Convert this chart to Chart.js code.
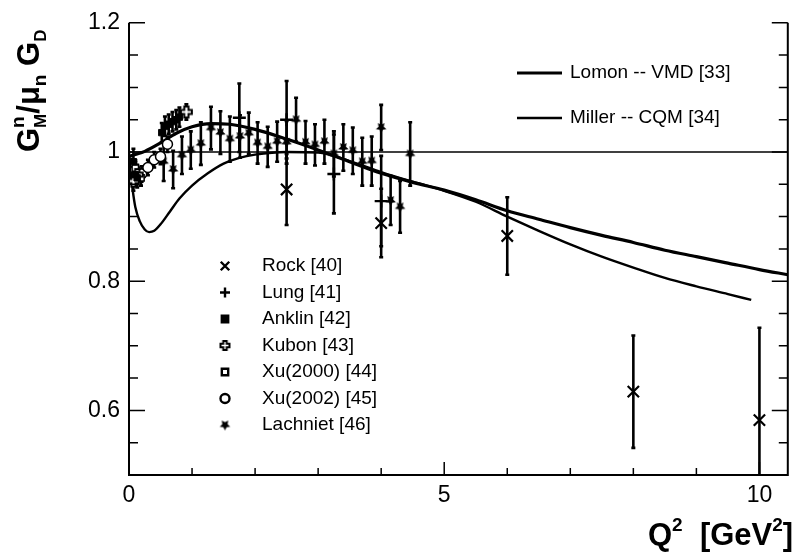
<!DOCTYPE html>
<html><head><meta charset="utf-8">
<script src="https://cdn.jsdelivr.net/npm/chart.js@4.4.1/dist/chart.umd.min.js"></script>
<style>html,body{margin:0;padding:0;background:#fff;}#wrap{width:798px;height:554px;}</style>
</head><body><div id="wrap"><canvas id="c" width="798" height="554"></canvas></div>
<script>
// ---------------- data ----------------
const lomonQ2 = [0, 0.1, 0.25, 0.5, 0.75, 1.0, 1.3, 1.6, 2.0, 2.5, 3.0, 3.5, 4.0, 4.5, 5.0, 5.5, 6.0, 6.5, 7.0, 7.5, 8.0, 8.5, 9.0, 9.5, 10.0, 10.45];
const lomonG  = [0.993, 0.996, 1.001, 1.014, 1.029, 1.039, 1.044, 1.043, 1.035, 1.020, 1.003, 0.985, 0.967, 0.953, 0.941, 0.926, 0.909, 0.896, 0.883, 0.871, 0.860, 0.848, 0.838, 0.828, 0.818, 0.810];
const millerQ2 = [0, 0.03, 0.06, 0.1, 0.17, 0.25, 0.32, 0.4, 0.5, 0.65, 0.8, 1.0, 1.25, 1.5, 1.75, 2.0, 2.5, 3.0, 3.5, 4.0, 4.5, 5.0, 5.5, 6.0, 6.5, 7.0, 7.5, 8.0, 8.5, 9.0, 9.5, 9.87];
const millerG  = [1.0, 0.965, 0.94, 0.915, 0.893, 0.880, 0.876, 0.878, 0.888, 0.908, 0.928, 0.948, 0.967, 0.982, 0.991, 0.996, 1.0, 0.999, 0.986, 0.969, 0.954, 0.940, 0.923, 0.900, 0.878, 0.857, 0.838, 0.821, 0.805, 0.792, 0.780, 0.771];
const refQ2 = [0, 10.45];
const refG  = [1, 1];

const rockQ2 = [2.5, 4.0, 6.0, 8.0, 10.0];
const rockG  = [0.942, 0.890, 0.870, 0.629, 0.585];
const rockErr = [0.055, 0.053, 0.060, 0.087, 0.143];

const lungQ2 = [1.75, 2.5, 3.25, 4.0];
const lungG  = [1.053, 1.050, 0.966, 0.924];
const lungErr = [0.053, 0.060, 0.061, 0.070];

const anklinQ2 = [0.07, 0.10, 0.13, 0.52, 0.57, 0.63, 0.69, 0.75, 0.80];
const anklinG  = [0.985, 0.965, 0.960, 1.030, 1.040, 1.043, 1.047, 1.050, 1.054];
const anklinErr = [0.02, 0.015, 0.015, 0.015, 0.015, 0.015, 0.015, 0.015, 0.015];

const kubonQ2 = [0.07, 0.13, 0.91];
const kubonG  = [0.955, 0.965, 1.062];
const kubonErr = [0.015, 0.015, 0.012];

const xu2000Q2 = [0.10, 0.19];
const xu2000G  = [0.975, 0.960];
const xu2000Err = [0.012, 0.012];

const xu2002Q2 = [0.10, 0.20, 0.30, 0.40, 0.50, 0.61];
const xu2002G  = [0.972, 0.966, 0.976, 0.988, 0.993, 1.012];
const xu2002Err = [0.012, 0.012, 0.012, 0.012, 0.012, 0.012];

const lachQ2 = [0.55, 0.70, 0.84, 0.98, 1.14, 1.30, 1.45, 1.60, 1.76, 1.90, 2.04, 2.20, 2.35, 2.50, 2.65, 2.80, 2.95, 3.10, 3.25, 3.40, 3.55, 3.70, 3.85, 4.00, 4.15, 4.30, 4.46];
const lachG  = [0.985, 0.973, 0.995, 1.003, 1.013, 1.037, 1.030, 1.020, 1.024, 1.029, 1.014, 1.008, 1.016, 1.015, 1.050, 1.015, 1.011, 1.016, 0.997, 1.007, 1.002, 0.985, 0.986, 1.038, 0.925, 0.915, 0.997];
const lachErr = [0.03, 0.029, 0.029, 0.029, 0.033, 0.033, 0.033, 0.035, 0.033, 0.032, 0.032, 0.031, 0.031, 0.033, 0.034, 0.033, 0.032, 0.034, 0.035, 0.036, 0.036, 0.037, 0.038, 0.035, 0.038, 0.040, 0.049];

const xTickLabels = [0, 5, 10];
const yTickLabels = [0.6, 0.8, 1.0, 1.2];

const zip = (xs, ys) => xs.map((x, i) => ({x: x, y: ys[i]}));

// ---------------- custom markers ----------------
function makeStar(r) {
  const s = Math.ceil(r * 2 + 2), c = document.createElement('canvas');
  c.width = s; c.height = s;
  const g = c.getContext('2d');
  g.fillStyle = '#000'; g.beginPath();
  for (let i = 0; i < 10; i++) {
    const a = Math.PI / 2 + i * Math.PI / 5, rr = (i % 2) ? r * 0.5 : r;
    g.lineTo(s / 2 + rr * Math.cos(a), s / 2 + rr * Math.sin(a));
  }
  g.closePath(); g.fill();
  return c;
}
function makeOpenCross(r) {
  const s = Math.ceil(r * 2 + 4), c = document.createElement('canvas');
  c.width = s; c.height = s;
  const g = c.getContext('2d'), m = s / 2, a = r * 0.38;
  g.beginPath();
  g.moveTo(m - a, m - r); g.lineTo(m + a, m - r); g.lineTo(m + a, m - a); g.lineTo(m + r, m - a);
  g.lineTo(m + r, m + a); g.lineTo(m + a, m + a); g.lineTo(m + a, m + r); g.lineTo(m - a, m + r);
  g.lineTo(m - a, m + a); g.lineTo(m - r, m + a); g.lineTo(m - r, m - a); g.lineTo(m - a, m - a);
  g.closePath();
  g.fillStyle = '#fff'; g.fill();
  g.lineWidth = 2; g.strokeStyle = '#000'; g.stroke();
  return c;
}
const starImg = makeStar(5.5);
const crossImg = makeOpenCross(5.5);
const crossImgSmall = makeOpenCross(4.5);

const FONT = '"Liberation Sans", Arial, Helvetica, sans-serif';

function pointDS(label, xs, ys, errs, style) {
  return Object.assign({
    label: label, data: zip(xs, ys), errs: errs, showLine: false,
    pointBackgroundColor: '#000', pointBorderColor: '#000', pointBorderWidth: 2, pointRadius: 5
  }, style);
}

const datasets = [
  pointDS('Rock [40]', rockQ2, rockG, rockErr, {pointStyle: 'crossRot', pointRadius: 8, pointBorderWidth: 2.2}),
  pointDS('Lung [41]', lungQ2, lungG, lungErr, {pointStyle: 'cross', pointRadius: 6.5, pointBorderWidth: 2.4}),
  pointDS('Anklin [42]', anklinQ2, anklinG, anklinErr, {pointStyle: 'rect', pointRadius: 4.5, pointBorderWidth: 1}),
  pointDS('Kubon [43]', kubonQ2, kubonG, kubonErr, {pointStyle: crossImg}),
  pointDS('Xu(2000) [44]', xu2000Q2, xu2000G, xu2000Err, {pointStyle: 'rect', pointRadius: 4.5, pointBorderWidth: 1.5, pointBackgroundColor: '#fff'}),
  pointDS('Xu(2002) [45]', xu2002Q2, xu2002G, xu2002Err, {pointStyle: 'circle', pointRadius: 5, pointBorderWidth: 1.5, pointBackgroundColor: '#fff'}),
  pointDS('Lachniet [46]', lachQ2, lachG, lachErr, {pointStyle: starImg}),
  {label: 'Lomon -- VMD [33]', data: zip(lomonQ2, lomonG), showLine: true, borderColor: '#000', borderWidth: 3.2, pointRadius: 0, cubicInterpolationMode: 'monotone', fill: false},
  {label: 'Miller -- CQM [34]', data: zip(millerQ2, millerG), showLine: true, borderColor: '#000', borderWidth: 2.4, pointRadius: 0, cubicInterpolationMode: 'monotone', fill: false},
  {label: 'ref', data: zip(refQ2, refG), showLine: true, borderColor: '#000', borderWidth: 1.5, pointRadius: 0, fill: false}
];

// ---------------- plugins ----------------
const errorBars = {
  id: 'errorBars',
  beforeDatasetsDraw(chart) {
    const ctx = chart.ctx, xs = chart.scales.x, ys = chart.scales.y, a = chart.chartArea;
    ctx.save();
    ctx.beginPath(); ctx.rect(a.left, a.top, a.right - a.left, a.bottom - a.top); ctx.clip();
    ctx.strokeStyle = '#000'; ctx.lineWidth = 2.6;
    chart.data.datasets.forEach(ds => {
      if (!ds.errs) return;
      ds.data.forEach((p, i) => {
        const px = xs.getPixelForValue(p.x);
        const y1 = ys.getPixelForValue(p.y + ds.errs[i]);
        const y2 = ys.getPixelForValue(p.y - ds.errs[i]);
        ctx.beginPath(); ctx.moveTo(px, y1); ctx.lineTo(px, y2); ctx.stroke();
        ctx.beginPath(); ctx.moveTo(px - 2, y1); ctx.lineTo(px + 2, y1);
        ctx.moveTo(px - 2, y2); ctx.lineTo(px + 2, y2); ctx.stroke();
      });
    });
    ctx.restore();
  }
};

function drawRich(ctx, parts, x, y) {
  let cx = x;
  parts.forEach(p => {
    ctx.font = 'bold ' + p.size + 'px ' + FONT;
    ctx.fillText(p.t, cx, y + (p.dy || 0));
    const w = ctx.measureText(p.t).width;
    if (p.stack) {
      ctx.font = 'bold ' + p.stack.size + 'px ' + FONT;
      ctx.fillText(p.stack.t, cx, y + p.stack.dy);
      cx += Math.max(w, ctx.measureText(p.stack.t).width);
    } else cx += w;
  });
}

const decor = {
  id: 'decor',
  afterDraw(chart) {
    const ctx = chart.ctx, xs = chart.scales.x, ys = chart.scales.y, a = chart.chartArea;
    ctx.save();
    ctx.strokeStyle = '#000'; ctx.fillStyle = '#000';
    // frame
    ctx.lineWidth = 2;
    ctx.beginPath();
    ctx.moveTo(a.left, a.top); ctx.lineTo(a.left, a.bottom); ctx.lineTo(a.right, a.bottom); ctx.lineTo(a.right, a.top);
    ctx.stroke();
    // x ticks
    ctx.lineWidth = 1.5;
    for (let v = 0; v <= 10; v++) {
      const px = xs.getPixelForValue(v), L = (v % 5 === 0) ? 13 : 7;
      ctx.beginPath(); ctx.moveTo(px, a.bottom); ctx.lineTo(px, a.bottom - L); ctx.stroke();
    }
    // y ticks both sides
    for (let k = 10; k <= 24; k++) {
      const v = k * 0.05, py = ys.getPixelForValue(v), L = (k % 4 === 0) ? 16 : 9;
      ctx.beginPath(); ctx.moveTo(a.left, py); ctx.lineTo(a.left + L, py);
      ctx.moveTo(a.right, py); ctx.lineTo(a.right - L, py); ctx.stroke();
    }
    // model legend
    ctx.font = '19px ' + FONT; ctx.textBaseline = 'middle'; ctx.textAlign = 'left';
    ctx.lineWidth = 3.2; ctx.beginPath(); ctx.moveTo(517, 73); ctx.lineTo(562, 73); ctx.stroke();
    ctx.fillText('Lomon -- VMD [33]', 570, 73);
    ctx.lineWidth = 2.4; ctx.beginPath(); ctx.moveTo(517, 118); ctx.lineTo(562, 118); ctx.stroke();
    ctx.fillText('Miller -- CQM [34]', 570, 118);
    // marker legend
    const rows = [266, 292.5, 319, 345.5, 372, 398.5, 425];
    const legStyles = [
      {pointStyle: 'crossRot', radius: 6, borderWidth: 1.8},
      {pointStyle: 'cross', radius: 5, borderWidth: 1.8},
      {pointStyle: 'rect', radius: 4.5, borderWidth: 1},
      {pointStyle: crossImgSmall, radius: 5, borderWidth: 1},
      {pointStyle: 'rect', radius: 4.5, borderWidth: 1.5},
      {pointStyle: 'circle', radius: 4.5, borderWidth: 1.5},
      {pointStyle: starImg, radius: 5, borderWidth: 1}
    ];
    for (let i = 0; i < 7; i++) {
      const ds = chart.data.datasets[i];
      ctx.fillStyle = (typeof ds.pointBackgroundColor === 'string') ? ds.pointBackgroundColor : '#000';
      ctx.strokeStyle = '#000';
      Chart.helpers.drawPoint(ctx, Object.assign({rotation: 0}, legStyles[i]), 225, rows[i]);
      ctx.fillStyle = '#000';
      ctx.font = '19px ' + FONT;
      ctx.fillText(ds.label, 262, rows[i]);
    }
    ctx.textBaseline = 'alphabetic';
    // axis titles
    ctx.fillStyle = '#000';
    drawRich(ctx, [
      {t: 'Q', size: 31}, {t: '2', size: 19, dy: -14},
      {t: '  [GeV', size: 31}, {t: '2', size: 19, dy: -14}, {t: ']', size: 31}
    ], 648, 545);
    ctx.save();
    ctx.translate(39, 152); ctx.rotate(-Math.PI / 2);
    drawRich(ctx, [
      {t: 'G', size: 31}, {t: 'n', size: 19, dy: -15, stack: {t: 'M', size: 17, dy: 7}},
      {t: '/\u03bc', size: 31}, {t: 'n', size: 19, dy: 7},
      {t: ' G', size: 31}, {t: 'D', size: 17, dy: 7}
    ], 0, 0);
    ctx.restore();
    ctx.restore();
  }
};

new Chart(document.getElementById('c'), {
  type: 'scatter',
  data: {datasets: datasets},
  options: {
    responsive: false, animation: false,
    layout: {padding: {left: 0, right: 5, top: 17, bottom: 0}},
    plugins: {legend: {display: false}, tooltip: {enabled: false}},
    scales: {
      x: {
        type: 'linear', min: 0, max: 10.45,
        grid: {display: false, drawTicks: false}, border: {display: false},
        afterBuildTicks: s => { s.ticks = xTickLabels.map(v => ({value: v})); },
        afterFit: s => { s.height = 79; },
        ticks: {autoSkip: false, maxRotation: 0, padding: 7, color: '#000', font: {family: FONT, size: 23},
                callback: v => String(v)}
      },
      y: {
        type: 'linear', min: 0.5, max: 1.2,
        grid: {display: false, drawTicks: false}, border: {display: false},
        afterBuildTicks: s => { s.ticks = yTickLabels.map(v => ({value: v})); },
        afterFit: s => { s.width = 129; },
        ticks: {autoSkip: false, padding: 9, color: '#000', font: {family: FONT, size: 23},
                callback: v => (Math.abs(v - 1) < 1e-9 ? '1' : v.toFixed(1))}
      }
    }
  },
  plugins: [errorBars, decor]
});
</script></body></html>
